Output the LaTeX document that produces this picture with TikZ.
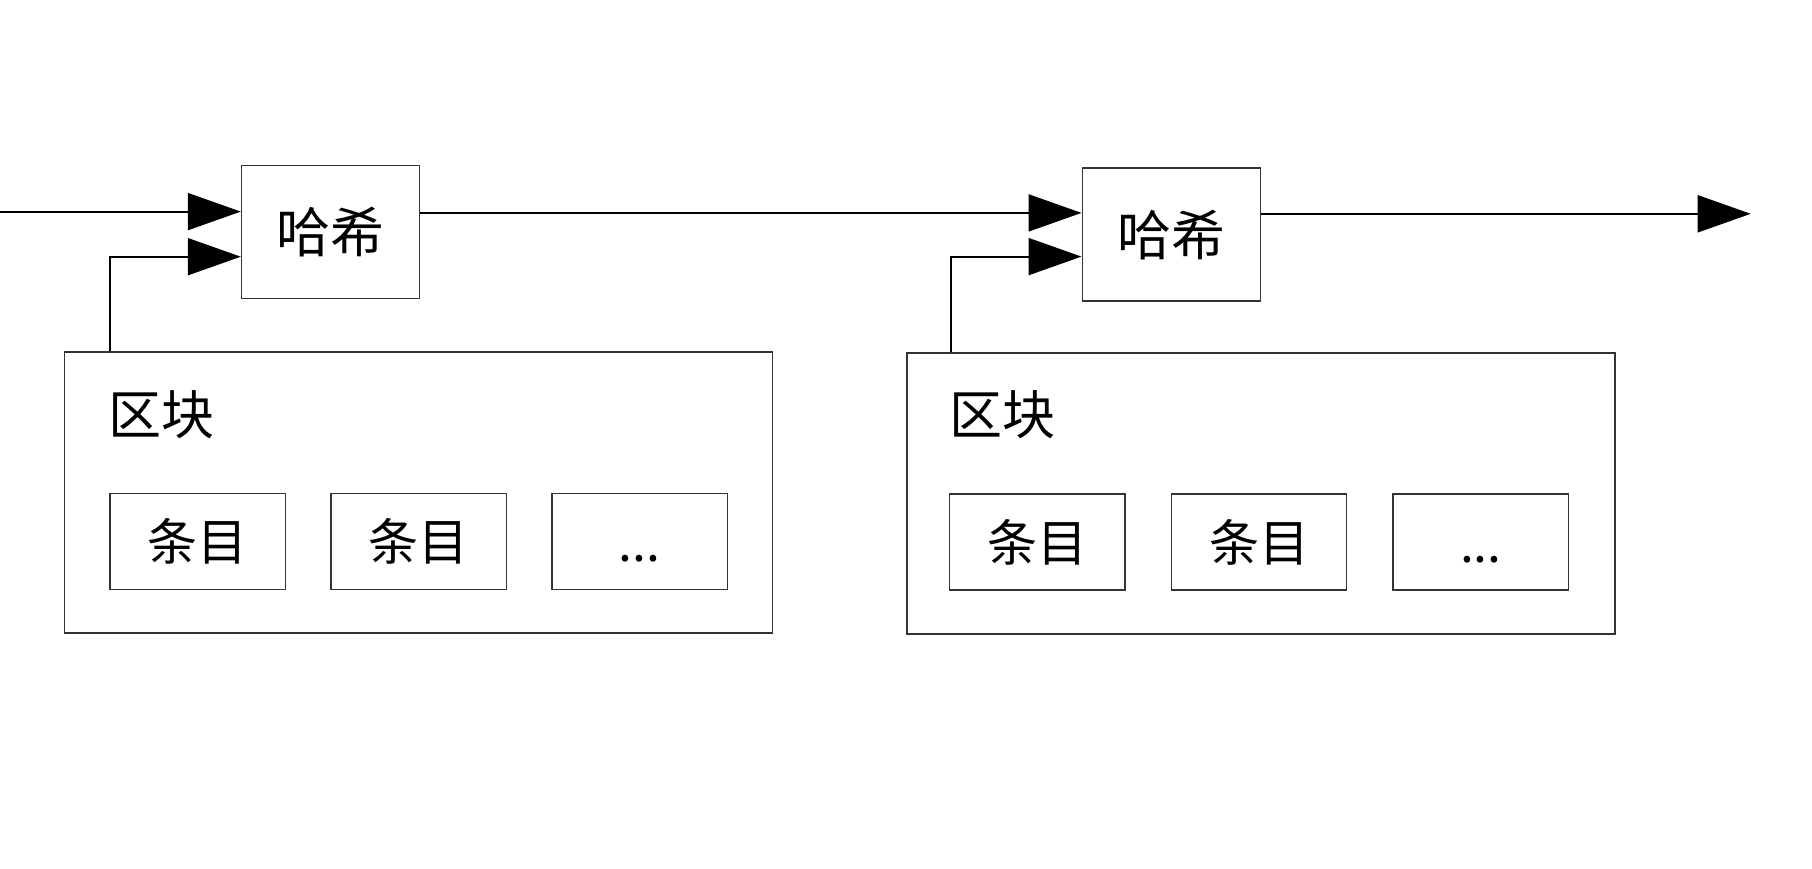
\documentclass[tikz,border=0pt]{standalone}
\usepackage{fontspec}
\newfontfamily\cjk{Noto Sans CJK SC}
\usetikzlibrary{arrows.meta}
\newcommand{\lowdots}{\smash{\raisebox{-20pt}{...}}}
\begin{document}
\begin{tikzpicture}[x=1pt,y=-1pt,
  box/.style={draw=black!80, line width=1.4pt, rectangle, inner sep=0pt},
  hashbox/.style={box, minimum width=178pt, minimum height=133pt, font=\cjk\fontsize{54}{60}\selectfont},
  blockbox/.style={box, minimum width=708pt, minimum height=281pt},
  entrybox/.style={box, minimum width=175.5pt, minimum height=96pt, font=\cjk\fontsize{50}{56}\selectfont},
  blocklabel/.style={anchor=west, inner sep=0pt, font=\cjk\fontsize{53}{60}\selectfont},
  arr/.style={draw=black, line width=2pt, -{Triangle[length=53pt,width=37pt]}}]
\useasboundingbox (0,0) rectangle (1812,868);
\fill[white] (0,0) rectangle (1812,868);

% hash nodes
\node[hashbox] (h1) at (330.5,231.9) {哈希};
\node[hashbox] (h2) at (1171.2,234.6) {哈希};

% first block and its entries
\node[blockbox] (b1) at (418.3,492.4) {};
\node[blocklabel] (l1) at (108,414.8) {区块};
\node[entrybox] (e11) at (197.6,541.4) {条目};
\node[entrybox] (e12) at (418.9,541.4) {条目};
\node[entrybox] (e13) at (639.6,541.4) {\lowdots};

% second block and its entries
\node[blockbox] (b2) at (1260.8,493.5) {};
\node[blocklabel] (l2) at (949,414.8) {区块};
\node[entrybox] (e21) at (1037.2,542) {条目};
\node[entrybox] (e22) at (1259,542) {条目};
\node[entrybox] (e23) at (1480.9,542) {\lowdots};

% chain of hashes
\coordinate (in) at (0,211.6);
\coordinate (out) at (1750.7,213.8);
\draw[arr] (in) -- (in -| h1.west);
\draw[arr] ([yshift=19pt]h1.east) -- ([yshift=19pt]h1.east -| h2.west);
\draw[arr] ([yshift=20.8pt]h2.east) -- (out);

% blocks feeding their hashes
\draw[arr] ([xshift=46.2pt]b1.north west) |- ([yshift=-24.8pt]h1.west);
\draw[arr] ([xshift=45pt]b2.north west) |- ([yshift=-22pt]h2.west);
\end{tikzpicture}
\end{document}
